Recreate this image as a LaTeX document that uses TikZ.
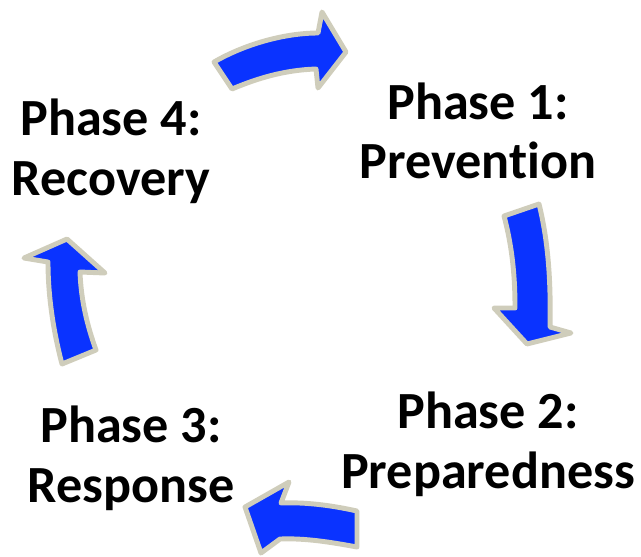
\documentclass[tikz,border=0pt]{standalone}
\usepackage{fontspec}
\setmainfont{Carlito}[Ligatures=NoCommon]
\usepackage{tikz}
\definecolor{ink}{HTML}{000000}
\definecolor{cycleblue}{HTML}{0A33FF}
\definecolor{rim}{HTML}{CFCDBB}
\usetikzlibrary{positioning}
\tikzset{
  every picture/.style={line cap=round, line join=round},
  phase/.style={
    font=\bfseries\fontsize{29.7pt}{34pt}\selectfont,
    text=ink,
    align=center,
    inner sep=0pt
  },
  cyclearrow/.style={
    fill=cycleblue,
    draw=rim,
    line width=2.8pt,
    line join=round
  }
}

\begin{document}
\begin{tikzpicture}[x=0.02cm, y=-0.02cm]
  \useasboundingbox (0,0) rectangle (641,556);

  % Phase labels
  \node[phase] (prevention)   at (478,131) {Phase 1:\\Prevention};
  \node[phase] (preparedness) at (488,444) {Phase 2:\\Preparedness};
  \node[phase] (response)     at (131,458) {Phase 3:\\Response};
  \node[phase] (recovery)     at (111,151) {Phase 4:\\Recovery};

  % Recovery -> Prevention
  \draw[cyclearrow] (214,62) .. controls (245,44) and (285,33) .. (318,33)
    -- (322,12) -- (346,52) -- (318,88) -- (316,69)
    .. controls (285,70) and (258,78) .. (232,89) -- cycle;

  % Prevention -> Preparedness
  \draw[cyclearrow] (504,216) .. controls (513,250) and (515,280) .. (515,308)
    -- (494,308) -- (527,344) -- (571,333) -- (550,327)
    .. controls (551,280) and (548,240) .. (539,204) -- cycle;

  % Preparedness -> Response
  \draw[cyclearrow] (357,511) .. controls (330,505) and (305,502) .. (281,503)
    -- (289,482) -- (245,507) -- (261,553) -- (280,539)
    .. controls (305,538) and (330,542) .. (357,547) -- cycle;

  % Response -> Recovery
  \draw[cyclearrow] (62,364) .. controls (53,330) and (48,295) .. (48,262)
    -- (24,258) -- (67,239) -- (105,273) -- (80,272)
    .. controls (81,300) and (87,325) .. (96,350) -- cycle;
\end{tikzpicture}
\end{document}
